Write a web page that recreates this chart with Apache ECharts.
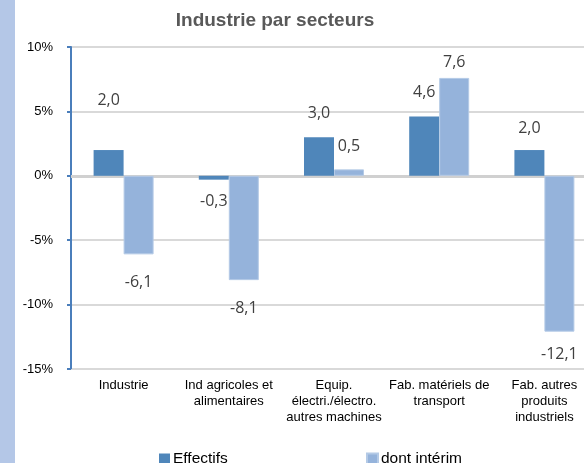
<!DOCTYPE html>
<html>
<head>
<meta charset="utf-8">
<script src="https://cdn.jsdelivr.net/npm/echarts@6/dist/echarts.min.js"></script>
<style>
html,body{margin:0;padding:0;background:#fff;overflow:hidden;width:584px;height:463px;}
#chart{width:598px;height:463px;}
</style>
</head>
<body>
<div id="chart"></div>
<script>
const categories = [
  "Industrie",
  "Ind agricoles et\nalimentaires",
  "Equip.\nélectri./électro.\nautres machines",
  "Fab. matériels de\ntransport",
  "Fab. autres\nproduits\nindustriels"
];
const effectifs = [2.0, -0.3, 3.0, 4.6, 2.0];
const interim = [-6.1, -8.1, 0.5, 7.6, -12.1];
const yTicks = [-15, -10, -5, 0, 5, 10];

const effDist = [42, 14, 16, 16, 14];
const intDist = [20, 20, 15, 7, 15];

function fmt(v){ return v.toFixed(1).replace('.', ','); }

function items(vals, dists){
  return vals.map((v, i) => ({
    value: v,
    label: { position: v >= 0 ? 'top' : 'bottom', distance: dists[i] }
  }));
}

const chart = echarts.init(document.getElementById('chart'));
chart.setOption({
  animation: false,
  backgroundColor: '#ffffff',
  textStyle: { fontFamily: 'Liberation Sans, Arial, sans-serif' },
  graphic: [{
    type: 'rect', left: 0, top: 0,
    shape: { width: 15, height: 463 },
    style: { fill: '#B4C7E7' }, z: -1
  }],
  title: {
    text: 'Industrie par secteurs',
    left: 270, top: 6, textAlign: 'center',
    textStyle: { fontSize: 19, fontWeight: 'bold', color: '#595959', fontFamily: 'Liberation Sans, Arial, sans-serif' }
  },
  legend: [{
    data: ['Effectifs'], left: 154, top: 446,
    icon: 'rect', itemWidth: 11, itemHeight: 11, itemGap: 3,
    textStyle: { fontSize: 15.5, color: '#000', padding: [0,0,0,-2] }
  }, {
    data: ['dont intérim'], left: 361, top: 446,
    icon: 'rect', itemWidth: 11, itemHeight: 11, itemGap: 3,
    textStyle: { fontSize: 15.5, color: '#000', padding: [0,0,0,-2] }
  }],
  grid: { left: 71, top: 47, right: 1, bottom: 94, containLabel: false },
  xAxis: {
    type: 'category',
    data: categories,
    axisLine: { show: true, onZero: false, lineStyle: { color: '#D9D9D9', width: 1 } },
    axisTick: { show: false },
    axisLabel: { interval: 0, margin: 8, fontSize: 13, color: '#000', lineHeight: 16, align: 'center' }
  },
  yAxis: {
    type: 'value',
    min: yTicks[0], max: yTicks[yTicks.length - 1], interval: 5,
    axisLine: { show: true, lineStyle: { color: '#4A7EBB', width: 2 } },
    axisTick: { show: true, length: 4, lineStyle: { color: '#4A7EBB', width: 2 } },
    axisLabel: { formatter: '{value}%', fontSize: 13, color: '#000', margin: 18 },
    splitLine: { show: true, lineStyle: { color: '#D9D9D9', width: 2 } }
  },
  series: [{
    name: 'Effectifs',
    type: 'bar',
    data: items(effectifs, effDist),
    barWidth: 30,
    barGap: '0%',
    itemStyle: { color: '#4F86BA' },
    label: {
      show: true, fontSize: 16, color: '#404040', fontFamily: 'Open Sans, sans-serif',
      formatter: p => fmt(p.value)
    },
    markLine: {
      silent: true, symbol: 'none', label: { show: false },
      lineStyle: { color: '#D0D0D0', width: 3, type: 'solid' },
      data: [{ yAxis: 0 }], z: 1
    }
  }, {
    name: 'dont intérim',
    type: 'bar',
    data: items(interim, intDist),
    barWidth: 30,
    barGap: '0%',
    itemStyle: { color: '#95B3DB', borderColor: '#B4CAE6', borderWidth: 1 },
    label: {
      show: true, fontSize: 16, color: '#404040', fontFamily: 'Open Sans, sans-serif',
      formatter: p => fmt(p.value)
    }
  }]
});
</script>
</body>
</html>
